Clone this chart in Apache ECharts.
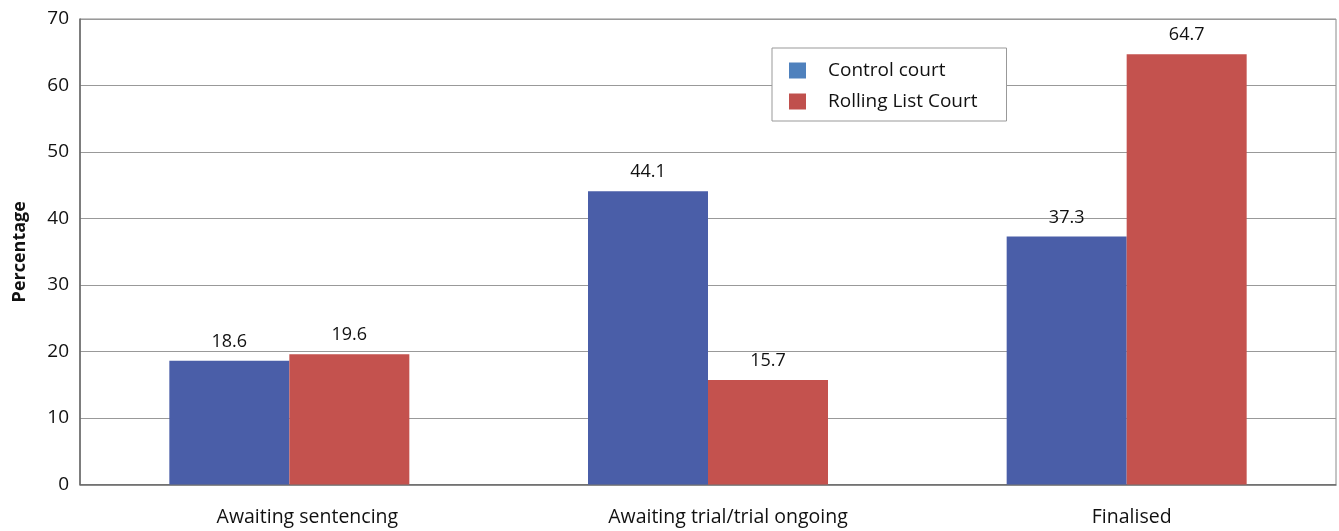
<!DOCTYPE html>
<html><head><meta charset="utf-8">
<script src="https://cdn.jsdelivr.net/npm/echarts@6/dist/echarts.min.js"></script>
<style>html,body{margin:0;padding:0;background:#fff}#c{width:1339px;height:531px}</style>
</head><body><div id="c"></div>
<script>
const categories = ['Awaiting sentencing', 'Awaiting trial/trial ongoing', 'Finalised'];
const controlCourt = [18.6, 44.1, 37.3];
const rollingListCourt = [19.6, 15.7, 64.7];
const yTicks = [0, 10, 20, 30, 40, 50, 60, 70];

const font = 'Open Sans';
// the reference's category labels sit slightly right of the category centres
const labelPad = [36, 40, 10];
const chart = echarts.init(document.getElementById('c'));
chart.setOption({
  animation: false,
  textStyle: { fontFamily: font },
  grid: { left: 80, right: 3, top: 19, bottom: 46.5, show: true, borderColor: '#8a8a8a', borderWidth: 1 },
  legend: {
    left: 772, top: 48, orient: 'vertical', itemWidth: 17, itemHeight: 16, itemGap: 12,
    padding: [13, 29, 10, 17], borderColor: '#999', borderWidth: 1, backgroundColor: '#fff',
    icon: 'rect',
    textStyle: { fontSize: 19, lineHeight: 17, color: '#111', padding: [0, 0, 0, 17], fontFamily: font },
    data: [
      { name: 'Control court', itemStyle: { color: '#4f81bd' } },
      { name: 'Rolling List Court', itemStyle: { color: '#c0504d' } }
    ]
  },
  xAxis: {
    type: 'category',
    data: categories.map((c, i) => ({ value: c, textStyle: { padding: [0, 0, 0, labelPad[i]] } })),
    axisLine: { lineStyle: { color: '#666', width: 1.5 } },
    axisTick: { show: false },
    axisLabel: { fontSize: 19.5, color: '#111', margin: 23 }
  },
  yAxis: {
    type: 'value', min: yTicks[0], max: yTicks[yTicks.length - 1], interval: 10,
    name: 'Percentage', nameLocation: 'middle', nameGap: 51,
    nameTextStyle: { fontSize: 18, fontWeight: 'bold', color: '#111' },
    axisLine: { show: true, lineStyle: { color: '#666', width: 1.5 } },
    axisTick: { show: false },
    axisLabel: { fontSize: 19, color: '#111', margin: 11, padding: [0, 0, 6, 0] },
    splitLine: { lineStyle: { color: '#999', width: 1 } }
  },
  series: [
    { name: 'Control court', type: 'bar', data: controlCourt, barWidth: 120, barGap: '0%',
      itemStyle: { color: '#4a5ea8' },
      label: { show: true, position: 'top', fontSize: 18, color: '#111', distance: 10 } },
    { name: 'Rolling List Court', type: 'bar', data: rollingListCourt, barWidth: 120, barGap: '0%',
      itemStyle: { color: '#c4524e' },
      label: { show: true, position: 'top', fontSize: 18, color: '#111', distance: 10 } }
  ]
});
</script></body></html>
